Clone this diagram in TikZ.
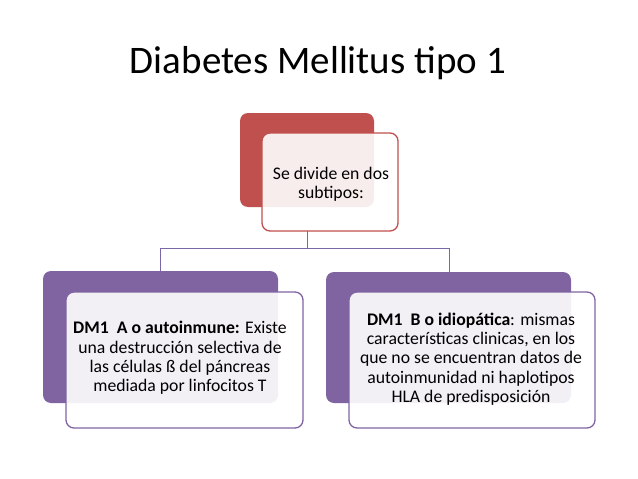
\documentclass[tikz,border=0pt]{standalone}
\usepackage{fontspec}
\setmainfont{Carlito}
\definecolor{redacc}{HTML}{C0504D}
\definecolor{puracc}{HTML}{8064A2}
\definecolor{conn}{HTML}{7A68A6}
\begin{document}
\begin{tikzpicture}[x=1pt,y=-1pt,
  backbox/.style={rounded corners=8pt},
  frontbox/.style={rounded corners=8pt, line width=1.3pt, fill=white, fill opacity=0.9, text opacity=1},
  conline/.style={draw=conn, line width=1pt},
  txt/.style={align=center, font=\fontsize{17.7}{19.3}\selectfont, text=black}]
\useasboundingbox (0,0) rectangle (638,479);
\node[font=\fontsize{39}{44}\selectfont] (title) at (318,63) {Diabetes Mellitus tipo 1};
% top
\fill[redacc, backbox] (240,113) rectangle (374,207);
\draw[frontbox, draw=redacc] (262,133) rectangle (398,231);
\node[txt] (top) at (331,184) {Se divide en dos\\subtipos:};
\coordinate (topb) at (307,231);
% left
\fill[puracc, backbox] (43,271) rectangle (278,403);
\draw[frontbox, draw=puracc] (66,292) rectangle (303,428);
\node[txt] (left) at (180,358) {\textbf{DM1\ \ A o autoinmune:} Existe\\una destrucción selectiva de\\las células ß del páncreas\\mediada por linfocitos T};
\coordinate (lt) at (160,271);
% right
\fill[puracc, backbox] (326,272) rectangle (571,403);
\draw[frontbox, draw=puracc] (349,292) rectangle (595,428);
\node[txt] (right) at (471,359) {\textbf{DM1\ \ B o idiopática}: mismas\\características clinicas, en los\\que no se encuentran datos de\\autoinmunidad ni haplotipos\\HLA de predisposición};
\coordinate (rt) at (449,272);
\draw[conline] (topb) -- (307,248) -| (lt);
\draw[conline] (307,248) -| (rt);
\end{tikzpicture}
\end{document}
